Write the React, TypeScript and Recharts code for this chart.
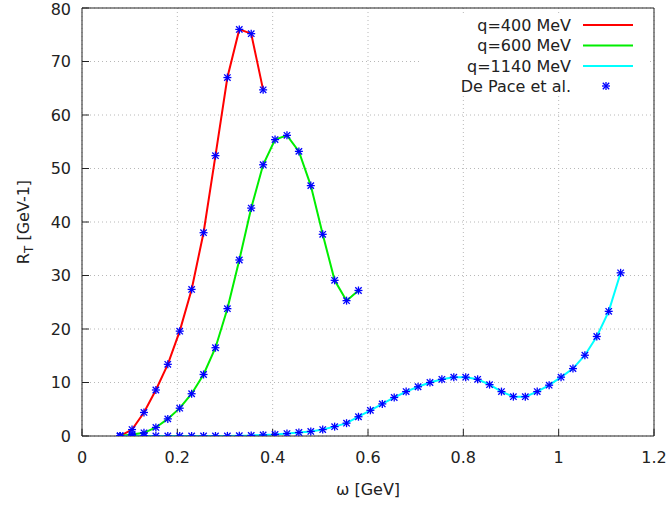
import React from 'react';
import { LineChart, Line, XAxis, YAxis, CartesianGrid, Legend } from 'recharts';

// ω [GeV] sample points (shared by all series)
const omega = [
  0.08, 0.105, 0.13, 0.155, 0.18, 0.205, 0.23, 0.255, 0.28, 0.305, 0.33, 0.355, 0.38,
  0.405, 0.43, 0.455, 0.48, 0.505, 0.53, 0.555, 0.58, 0.605, 0.63, 0.655, 0.68, 0.705,
  0.73, 0.755, 0.78, 0.805, 0.83, 0.855, 0.88, 0.905, 0.93, 0.955, 0.98, 1.005, 1.03,
  1.055, 1.08, 1.105, 1.13,
];

// R_T [GeV-1]
const q400 = [0, 1.2, 4.4, 8.6, 13.4, 19.6, 27.4, 38.0, 52.4, 67.0, 76.0, 75.2, 64.7];
const q600 = [
  0, 0.3, 0.6, 1.6, 3.2, 5.2, 7.9, 11.5, 16.5, 23.8, 32.9, 42.6, 50.7, 55.4, 56.2, 53.2,
  46.8, 37.7, 29.1, 25.3, 27.2,
];
const q1140 = [
  0, 0, 0, 0, 0, 0, 0, 0, 0, 0.02, 0.05, 0.1, 0.2, 0.3, 0.45, 0.65, 0.85, 1.2, 1.75, 2.4,
  3.6, 4.8, 6.0, 7.2, 8.3, 9.2, 10.0, 10.6, 11.0, 11.0, 10.6, 9.6, 8.3, 7.35, 7.35, 8.3,
  9.5, 11.0, 12.6, 15.1, 18.6, 23.3, 30.5,
];

const xTicks = [0, 0.2, 0.4, 0.6, 0.8, 1, 1.2];
const yTicks = [0, 10, 20, 30, 40, 50, 60, 70, 80];

const seriesNames = ['q=400 MeV', 'q=600 MeV', 'q=1140 MeV'];
const markerName = 'De Pace et al.';

const toData = (vals: number[]) => vals.map((y, i) => ({ x: omega[i], y }));
const data400 = toData(q400);
const data600 = toData(q600);
const data1140 = toData(q1140);

const FONT = 'DejaVu Sans, Verdana, sans-serif';
const TXT = '#222';
const COLORS = ['#ff0000', '#00ee00', '#00ffff'];
const MARK = '#0000ff';

const Star = ({ cx, cy, r = 4 }: { cx: number; cy: number; r?: number }) => (
  <g>
    <line x1={cx - r} y1={cy} x2={cx + r} y2={cy} stroke={MARK} strokeWidth={1.3} />
    <line x1={cx} y1={cy - r} x2={cx} y2={cy + r} stroke={MARK} strokeWidth={1.3} />
    <line x1={cx - r * 0.8} y1={cy - r * 0.8} x2={cx + r * 0.8} y2={cy + r * 0.8} stroke={MARK} strokeWidth={1.3} />
    <line x1={cx - r * 0.8} y1={cy + r * 0.8} x2={cx + r * 0.8} y2={cy - r * 0.8} stroke={MARK} strokeWidth={1.3} />
  </g>
);

const renderDot = (props: any) => {
  const { cx, cy, index } = props;
  if (cx == null || cy == null) return <g key={`d-${index}`} />;
  return (
    <g key={`d-${index}`}>
      <Star cx={cx} cy={cy} />
    </g>
  );
};

const LegendBox = () => {
  const rows = [25, 45.5, 66, 86];
  return (
    <svg width={672} height={110} style={{ position: 'absolute', left: 0, top: 0 }}>
      <rect x={422} y={16} width={226} height={80} fill="#ffffff" />
      {seriesNames.map((name, i) => (
        <g key={name}>
          <text x={571} y={rows[i] + 5.8} textAnchor="end" fontFamily={FONT} fontSize={16} fill={TXT}>
            {name}
          </text>
          <line x1={583} x2={633} y1={rows[i]} y2={rows[i]} stroke={COLORS[i]} strokeWidth={2} />
        </g>
      ))}
      <text x={571} y={rows[3] + 5.8} textAnchor="end" fontFamily={FONT} fontSize={16} fill={TXT}>
        {markerName}
      </text>
      <Star cx={606} cy={rows[3]} />
    </svg>
  );
};

const XLabel = (props: any) => {
  const vb = props.viewBox || {};
  const cx = (vb.x ?? 0) + (vb.width ?? 0) / 2;
  return (
    <text x={cx} y={495} textAnchor="middle" fontFamily={FONT} fontSize={16} fill={TXT}>
      ω [GeV]
    </text>
  );
};

const YLabel = (props: any) => {
  const vb = props.viewBox || {};
  const cy = (vb.y ?? 0) + (vb.height ?? 0) / 2;
  const cx = 29;
  return (
    <text
      x={cx}
      y={cy}
      transform={`rotate(-90, ${cx}, ${cy})`}
      textAnchor="middle"
      fontFamily={FONT}
      fontSize={16}
      fill={TXT}
    >
      R
      <tspan dy={4} fontSize={12}>T</tspan>
      <tspan dy={-4}> [GeV-1]</tspan>
    </text>
  );
};

const tickStyle = { fontFamily: FONT, fontSize: 16, fill: TXT };

export default function App() {
  return (
    <div style={{ position: 'absolute', left: 0, top: 0, width: 672, height: 505, background: '#fff' }}>
      <LineChart width={672} height={505} margin={{ top: 7, right: 17, bottom: 0, left: 0 }}>
        <CartesianGrid stroke="#b8b8b8" strokeDasharray="1 3" />
        <XAxis
          dataKey="x"
          type="number"
          domain={[0, 1.2]}
          ticks={xTicks}
          allowDataOverflow
          height={69}
          tickSize={-7}
          tickMargin={23}
          stroke="#222"
          tick={tickStyle}
          label={XLabel}
        />
        <XAxis
          xAxisId="top"
          orientation="top"
          type="number"
          domain={[0, 1.2]}
          ticks={xTicks}
          height={1}
          tickSize={-7}
          tickFormatter={() => ''}
          stroke="#222"
        />
        <YAxis
          type="number"
          domain={[0, 80]}
          ticks={yTicks}
          allowDataOverflow
          width={82}
          tickSize={-7}
          tickMargin={18}
          stroke="#222"
          tick={tickStyle}
          label={YLabel}
        />
        <YAxis
          yAxisId="right"
          orientation="right"
          type="number"
          domain={[0, 80]}
          ticks={yTicks}
          width={1}
          tickSize={-7}
          tickFormatter={() => ''}
          stroke="#222"
        />
        <Line
          data={data400}
          dataKey="y"
          name={seriesNames[0]}
          type="linear"
          stroke={COLORS[0]}
          strokeWidth={2}
          dot={renderDot}
          activeDot={false}
          isAnimationActive={false}
        />
        <Line
          data={data600}
          dataKey="y"
          name={seriesNames[1]}
          type="linear"
          stroke={COLORS[1]}
          strokeWidth={2}
          dot={renderDot}
          activeDot={false}
          isAnimationActive={false}
        />
        <Line
          data={data1140}
          dataKey="y"
          name={seriesNames[2]}
          type="linear"
          stroke={COLORS[2]}
          strokeWidth={2}
          dot={renderDot}
          activeDot={false}
          isAnimationActive={false}
        />
        <Legend
          layout="horizontal"
          verticalAlign="middle"
          align="center"
          wrapperStyle={{ position: 'absolute', left: 0, top: 0, width: 672, height: 110, pointerEvents: 'none' }}
          content={() => <LegendBox />}
        />
      </LineChart>
    </div>
  );
}
